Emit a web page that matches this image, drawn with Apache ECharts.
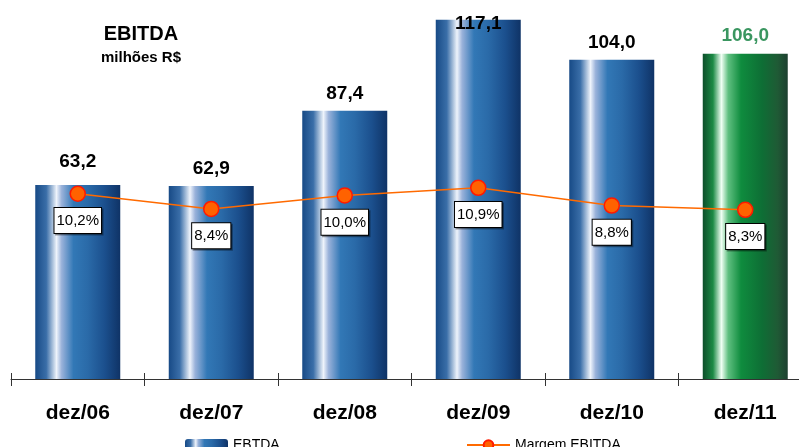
<!DOCTYPE html>
<html><head><meta charset="utf-8">
<script src="https://cdn.jsdelivr.net/npm/echarts@6/dist/echarts.min.js"></script>
<style>html,body{margin:0;padding:0;background:#fff;overflow:hidden;width:799px;height:447px;}#c{width:812px;height:447px;}</style>
</head><body><div id="c"></div>
<script>
const categories = ['dez/06','dez/07','dez/08','dez/09','dez/10','dez/11'];
const ebitda = [63.2, 62.9, 87.4, 117.1, 104.0, 106.0];
const margem = [10.2, 8.4, 10.0, 10.9, 8.8, 8.3];

function grad(stops){
  return new echarts.graphic.LinearGradient(0,0,1,0, stops.map(s=>({offset:s[0],color:s[1]})));
}
const blue = () => grad([[0,'#174a86'],[0.13,'#3a6ea8'],[0.25,'#eef3fb'],[0.31,'#9ab2da'],[0.45,'#3278b6'],[0.62,'#2a6aa8'],[0.82,'#1b4f8d'],[1,'#0f3366']]);
const green = () => grad([[0,'#0d4f2a'],[0.12,'#1b8a45'],[0.22,'#f0fff4'],[0.3,'#5fbf80'],[0.45,'#0f8c3e'],[0.7,'#0e6e35'],[0.88,'#1f5a35'],[1,'#1d4030']]);
const fmt = v => v.toFixed(1).replace('.', ',');

const barData = ebitda.map((v,i)=>{
  const d = {value:v};
  if (i === categories.length-1) {
    d.itemStyle = {color: green()};
    d.label = {color:'#3a9660'};
  }
  if (v === Math.max(...ebitda)) d.label = {offset:[0,22]};
  if (i === 0) d.label = {offset:[0,-6]};
  return d;
});

const chart = echarts.init(document.getElementById('c'));
chart.setOption({
  animation:false,
  title:{text:'EBITDA', subtext:'milhões R$', left:136, top:19, textAlign:'center', itemGap:6,
    textStyle:{fontFamily:'Liberation Sans',fontSize:20,fontWeight:'bold',color:'#000'},
    subtextStyle:{fontFamily:'Liberation Sans',fontSize:15,fontWeight:'bold',color:'#000'}},
  legend:[
    {data:['EBTDA'], left:180, top:433, itemWidth:43, itemHeight:12, itemGap:5,
      textStyle:{fontFamily:'Liberation Sans',fontSize:14,color:'#000'}},
    {data:['Margem EBITDA'], left:461, top:433, itemWidth:43, itemHeight:12,
      textStyle:{fontFamily:'Liberation Sans',fontSize:14,color:'#000'}}
  ],
  grid:{left:11, top:0, right:0, bottom:68, containLabel:false},
  xAxis:[
    {type:'category', data:categories, boundaryGap:true,
      axisLine:{onZero:false, lineStyle:{color:'#333',width:1}},
      axisTick:{show:true,length:7,lineStyle:{color:'#333'}},
      axisLabel:{margin:24,fontFamily:'Liberation Sans',fontSize:21,fontWeight:'bold',color:'#000'}},
    {type:'category', data:categories, position:'bottom', boundaryGap:true,
      axisLine:{show:false,onZero:false}, axisLabel:{show:false},
      axisTick:{show:true,inside:true,length:6,lineStyle:{color:'#333'}}}
  ],
  yAxis:[
    {type:'value', min:0, max:123.5, show:false, splitLine:{show:false}},
    {type:'value', min:-11.7, max:33.1, show:false, splitLine:{show:false}}
  ],
  series:[
    {name:'EBTDA', type:'bar', data:barData, barWidth:85, itemStyle:{color: blue()},
      label:{show:true, position:'top', distance:8, formatter:p=>fmt(p.value),
        fontFamily:'Liberation Sans', fontSize:19, fontWeight:'bold', color:'#000'}},
    {name:'Margem EBITDA', type:'line', yAxisIndex:1, data:margem, z:5,
      symbol:'circle', symbolSize:15,
      lineStyle:{color:'#ff6a00', width:1.5},
      itemStyle:{color:'#ff6200', borderColor:'#ff1a00', borderWidth:1.5},
      label:{show:true, position:'bottom', distance:6, formatter:p=>fmt(p.value)+'%',
        fontFamily:'Liberation Sans', fontSize:15, lineHeight:18, color:'#000', backgroundColor:'#fff',
        borderColor:'#000', borderWidth:1, padding:[4,2,3,2],
        shadowColor:'rgba(0,0,0,0.35)', shadowOffsetX:1.5, shadowOffsetY:1.5, shadowBlur:0}}
  ]
});
</script></body></html>
